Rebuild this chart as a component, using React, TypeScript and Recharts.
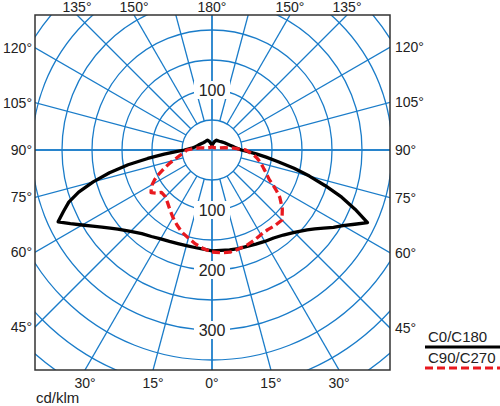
import React from 'react';
import { RadarChart, Radar, PolarGrid, PolarAngleAxis, PolarRadiusAxis } from 'recharts';

// gamma angles (0 = straight down, 180 = straight up)
const gammaAngles = [0, 5, 10, 15, 20, 25, 30, 35, 40, 45, 50, 52.5, 55, 57.5, 60, 62.5, 65, 67.5, 70, 72.5, 75, 77.5, 80, 82.5, 85, 87.5, 90, 95, 100, 105, 110, 120, 130, 140, 150, 155, 160, 165, 170, 175, 180];
// C0 (right half of the black curve), cd/klm
const c0Values = [168, 168, 169, 170, 171, 173, 176, 179, 185, 194, 207, 216, 227, 240, 252, 268, 286, 258, 230, 198, 168, 140, 112, 91, 74, 60, 49, 40, 35, 31, 28, 24, 21, 19, 18, 18, 16, 14, 11, 9, 7];
// C180 (left half of the black curve)
const c180Values = [167, 166, 165, 165, 166, 168, 171, 176, 182, 192, 205, 214, 224, 236, 250, 266, 283, 268, 254, 233, 205, 175, 142, 108, 80, 60, 46, 34, 29, 26, 24, 21, 19, 18, 18, 18, 16, 14, 11, 9, 7];
// C90 (right half of the red curve)
const c90Values = [170, 172, 173, 171, 169, 166, 163, 162, 164, 165, 153, 145, 138, 128, 118, 108, 102, 97, 92, 88, 84, 80, 76, 71, 66, 61, 56, 36, 22, 14, 10, 7, 6, 5, 5, 5, 5, 5, 5, 5, 5];
// C270 (left half of the red curve)
const c270Values = [168, 165, 159, 152, 146, 138, 130, 122, 115, 110, 110, 118, 124, 120, 115, 108, 100, 90, 82, 74, 67, 60, 55, 50, 47, 44, 42, 30, 20, 14, 10, 7, 6, 5, 5, 5, 5, 5, 5, 5, 5];

const radiusTickLabels = [100, 200, 300];
const topRadiusTickLabels = [100];
const gridRingValues = [50, 100, 150, 200, 250, 300, 350, 400, 450, 500];
const gridSpokeAngles = [0, 15, 30, 45, 60, 75, 90, 105, 120, 135, 150, 165, 180, 195, 210, 225, 240, 255, 270, 285, 300, 315, 330, 345];
const axisSpokeAngles = [0, 90, 180, 270];
const sideLabelGammas = [45, 60, 75, 90, 105, 120];
const topLabelGammas = [135, 150];
const bottomLabelGammas = [15, 30];
const legendNames = ['C0/C180', 'C90/C270'];

const BOX_L = 35;
const BOX_T = 15;
const BOX_R = 390;
const BOX_B = 370;
const CX = 212;
const CY = 150;
const R_OUT = 300;
const R_MAX = 500;
const pxPerUnit = R_OUT / R_MAX;

const GRID_BLUE = '#1a7cc9';
const FONT = "'Liberation Sans', Arial, sans-serif";

const rows: { phi: number; c0c180: number; c90c270: number }[] = [];
gammaAngles.forEach((g, i) => rows.push({ phi: g, c0c180: c0Values[i], c90c270: c90Values[i] }));
for (let i = gammaAngles.length - 2; i >= 1; i--) {
  rows.push({ phi: 360 - gammaAngles[i], c0c180: c180Values[i], c90c270: c270Values[i] });
}

function edgePoint(g: number, side: number) {
  const rad = (g * Math.PI) / 180;
  const sx = Math.sin(rad) * side;
  const sy = Math.cos(rad);
  const tx = sx > 1e-9 ? (BOX_R - CX) / sx : sx < -1e-9 ? (BOX_L - CX) / sx : Infinity;
  const ty = sy > 1e-9 ? (BOX_B - CY) / sy : sy < -1e-9 ? (BOX_T - CY) / sy : Infinity;
  const t = Math.min(tx, ty);
  return { x: CX + sx * t, y: CY + sy * t };
}

const renderRadiusTick = (p: any) => {
  const v = p.payload && p.payload.value;
  return (
    <g>
      <rect x={p.x - 18} y={p.y - 9} width={36} height={18} fill="#fff" />
      <text x={p.x} y={p.y} textAnchor="middle" dominantBaseline="central" fontSize={16} fill="#222" fontFamily={FONT}>
        {v}
      </text>
    </g>
  );
};

const W = BOX_R - BOX_L;
const H = BOX_B - BOX_T;
const ccx = CX - BOX_L;
const ccy = CY - BOX_T;
const margin = { top: 0, right: 0, bottom: 0, left: 0 };
const layer = { position: 'absolute', left: 0, top: 0 } as const;

export default function App() {
  const labelStyle = { fontSize: 14, fill: '#222', fontFamily: FONT } as const;
  return (
    <div style={{ position: 'absolute', left: 0, top: 0, width: 500, height: 406, background: '#fff' }}>
      <div style={{ position: 'absolute', left: BOX_L, top: BOX_T, width: W, height: H, overflow: 'hidden' }}>
        <div style={layer}>
          <RadarChart width={W} height={H} data={rows} cx={ccx} cy={ccy} innerRadius={30} outerRadius={R_OUT} startAngle={-90} endAngle={270} margin={margin}>
            <PolarGrid gridType="circle" polarRadius={gridRingValues.map((v) => v * pxPerUnit)} polarAngles={gridSpokeAngles} stroke={GRID_BLUE} strokeWidth={1.3} />
            <PolarAngleAxis dataKey="phi" type="number" domain={[0, 360]} tick={false} axisLine={false} tickLine={false} />
            <PolarRadiusAxis domain={[0, R_MAX]} type="number" tick={false} axisLine={false} tickLine={false} />
          </RadarChart>
        </div>
        <div style={layer}>
          <RadarChart width={W} height={H} data={rows} cx={ccx} cy={ccy} innerRadius={0} outerRadius={R_OUT} startAngle={-90} endAngle={270} margin={margin}>
            <PolarGrid gridType="circle" polarRadius={[]} polarAngles={axisSpokeAngles} stroke={GRID_BLUE} strokeWidth={1.3} />
            <PolarAngleAxis dataKey="phi" type="number" domain={[0, 360]} tick={false} axisLine={false} tickLine={false} />
            <PolarRadiusAxis domain={[0, R_MAX]} type="number" angle={-90} ticks={radiusTickLabels} tick={renderRadiusTick} axisLine={false} tickLine={false} />
            <Radar dataKey="c0c180" name={legendNames[0]} stroke="#000" strokeWidth={3.3} fill="none" fillOpacity={0} dot={false} strokeLinejoin="round" isAnimationActive={false} />
            <Radar dataKey="c90c270" name={legendNames[1]} stroke="#e8191f" strokeWidth={3.3} strokeDasharray="8 4" fill="none" fillOpacity={0} dot={false} strokeLinejoin="round" isAnimationActive={false} />
          </RadarChart>
        </div>
        <div style={layer}>
          <RadarChart width={W} height={H} data={rows} cx={ccx} cy={ccy} innerRadius={0} outerRadius={R_OUT} startAngle={-90} endAngle={270} margin={margin}>
            <PolarAngleAxis dataKey="phi" type="number" domain={[0, 360]} tick={false} axisLine={false} tickLine={false} />
            <PolarRadiusAxis domain={[0, R_MAX]} type="number" angle={90} ticks={topRadiusTickLabels} tick={renderRadiusTick} axisLine={false} tickLine={false} />
            <Radar dataKey="c0c180" stroke="none" strokeWidth={0} fill="none" fillOpacity={0} dot={false} legendType="none" isAnimationActive={false} />
          </RadarChart>
        </div>
      </div>
      <svg width={500} height={406} style={{ position: 'absolute', left: 0, top: 0, pointerEvents: 'none' }}>
        <rect x={BOX_L} y={BOX_T} width={W} height={H} fill="none" stroke="#333" strokeWidth={1.5} />
        {sideLabelGammas.map((g) => {
          const pl = edgePoint(g, -1);
          const pr = edgePoint(g, 1);
          return (
            <g key={'s' + g}>
              <text x={BOX_L - 3} y={pl.y} textAnchor="end" dominantBaseline="central" {...labelStyle}>{g}°</text>
              <text x={BOX_R + 5} y={pr.y} textAnchor="start" dominantBaseline="central" {...labelStyle}>{g}°</text>
            </g>
          );
        })}
        {topLabelGammas.map((g) => {
          const pl = edgePoint(g, -1);
          const pr = edgePoint(g, 1);
          return (
            <g key={'t' + g}>
              <text x={pl.x} y={BOX_T - 3} textAnchor="middle" {...labelStyle}>{g}°</text>
              <text x={pr.x} y={BOX_T - 3} textAnchor="middle" {...labelStyle}>{g}°</text>
            </g>
          );
        })}
        <text x={CX} y={BOX_T - 3} textAnchor="middle" {...labelStyle}>180°</text>
        {bottomLabelGammas.map((g) => {
          const pl = edgePoint(g, -1);
          const pr = edgePoint(g, 1);
          return (
            <g key={'b' + g}>
              <text x={pl.x} y={BOX_B + 18} textAnchor="middle" {...labelStyle}>{g}°</text>
              <text x={pr.x} y={BOX_B + 18} textAnchor="middle" {...labelStyle}>{g}°</text>
            </g>
          );
        })}
        <text x={CX} y={BOX_B + 18} textAnchor="middle" {...labelStyle}>0°</text>
        <text x={36} y={403} fontSize={15} fill="#222" fontFamily={FONT}>cd/klm</text>
        <text x={428} y={342} fontSize={15} fill="#222" fontFamily={FONT}>{legendNames[0]}</text>
        <line x1={425} y1={347} x2={500} y2={347} stroke="#000" strokeWidth={3} />
        <text x={428} y={363} fontSize={15} fill="#222" fontFamily={FONT}>{legendNames[1]}</text>
        <line x1={425} y1={368} x2={500} y2={368} stroke="#e8191f" strokeWidth={3} strokeDasharray="8 4" />
      </svg>
    </div>
  );
}
